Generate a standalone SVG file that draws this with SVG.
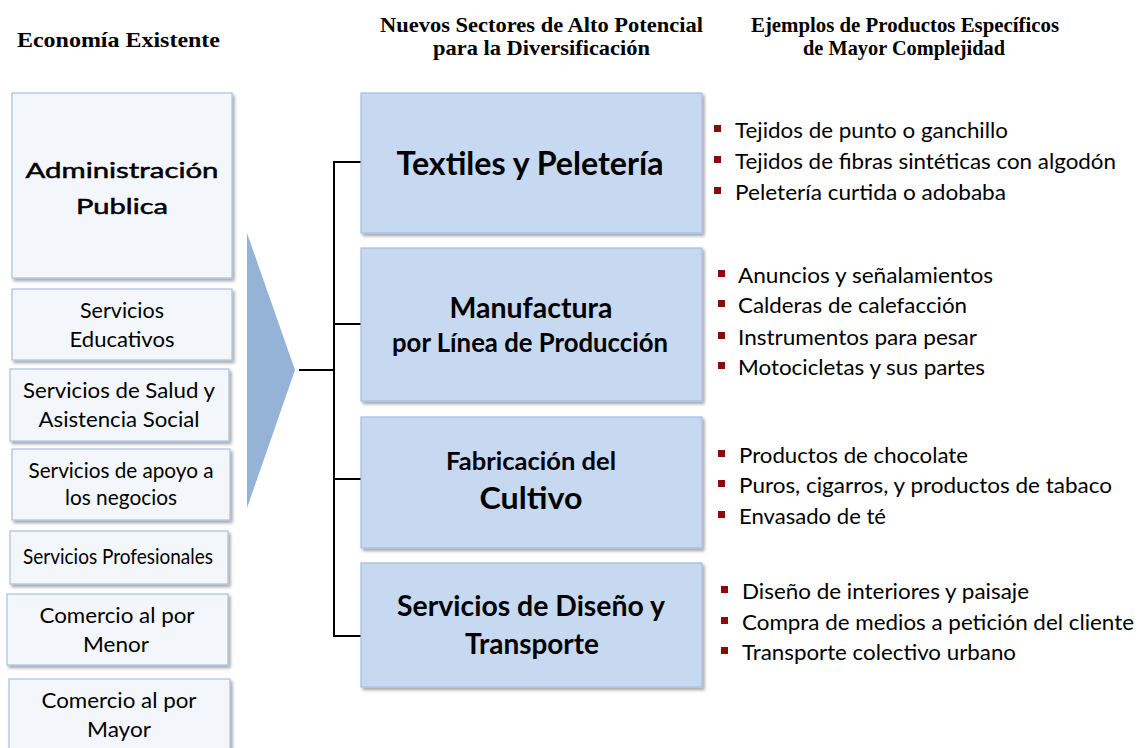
<svg xmlns="http://www.w3.org/2000/svg" width="1138" height="748" viewBox="0 0 1138 748">
<defs>
<filter id="sh" x="-10%" y="-10%" width="120%" height="130%">
<feDropShadow dx="2" dy="2.5" stdDeviation="1.5" flood-color="#000" flood-opacity="0.35"/>
</filter>
</defs>
<style>
.hdr{font-family:"Liberation Serif","Times New Roman",serif;font-weight:bold;font-size:22px;fill:#000}
.lbox{fill:#f3f6fb;stroke:#a7c0e0;stroke-width:1.2}
.mbox{fill:#c6d9f1;stroke:#a3bfe2;stroke-width:1.2}
.lt{font-family:Lato,"Liberation Sans",sans-serif;font-size:22px;fill:#000;text-anchor:middle}
.mt{font-family:Lato,"Liberation Sans",sans-serif;font-weight:bold;fill:#000;text-anchor:middle}
.it{font-family:Lato,"Liberation Sans",sans-serif;font-size:21px;fill:#000}
.bul{fill:#8b0a0a}
.con{stroke:#000;stroke-width:2;fill:none}
.thick{stroke:#000;stroke-width:0.5}
</style>
<rect width="1138" height="748" fill="#fff"/>

<g id="headers">
<text class="hdr" x="17" y="47" font-size="25" textLength="203" lengthAdjust="spacingAndGlyphs">Economía  Existente</text>
<text class="hdr" x="380" y="32" textLength="323" lengthAdjust="spacingAndGlyphs">Nuevos Sectores de Alto Potencial</text>
<text class="hdr" x="433" y="55" textLength="217" lengthAdjust="spacingAndGlyphs">para la Diversificación</text>
<text class="hdr" x="751" y="32" font-size="21" textLength="308" lengthAdjust="spacingAndGlyphs">Ejemplos  de Productos Específicos</text>
<text class="hdr" x="803" y="55" font-size="21" textLength="202" lengthAdjust="spacingAndGlyphs">de Mayor Complejidad</text>
</g>

<g id="n-admin"><rect class="lbox" filter="url(#sh)" x="12" y="93" width="220" height="185"/>
<text class="lt thick" x="122" y="178" font-size="31" textLength="193" lengthAdjust="spacingAndGlyphs">Administración</text>
<text class="lt thick" x="122" y="214" font-size="31" textLength="92" lengthAdjust="spacingAndGlyphs">Publica</text></g>

<g id="n-educ"><rect class="lbox" filter="url(#sh)" x="12" y="289" width="220" height="71"/>
<text class="lt" x="122" y="318" textLength="84" lengthAdjust="spacingAndGlyphs">Servicios</text>
<text class="lt" x="122" y="347" textLength="105" lengthAdjust="spacingAndGlyphs">Educativos</text></g>

<g id="n-salud"><rect class="lbox" filter="url(#sh)" x="10" y="369" width="219" height="72"/>
<text class="lt" x="119" y="398" textLength="192" lengthAdjust="spacingAndGlyphs">Servicios de Salud y</text>
<text class="lt" x="119" y="427" textLength="161" lengthAdjust="spacingAndGlyphs">Asistencia Social</text></g>

<g id="n-apoyo"><rect class="lbox" filter="url(#sh)" x="12" y="449" width="218" height="71"/>
<text class="lt" x="121" y="478" textLength="185" lengthAdjust="spacingAndGlyphs">Servicios de apoyo a</text>
<text class="lt" x="121" y="505" textLength="112" lengthAdjust="spacingAndGlyphs">los negocios</text></g>

<g id="n-prof"><rect class="lbox" filter="url(#sh)" x="10" y="531" width="218" height="53"/>
<text class="lt" x="118" y="564" font-size="18" textLength="190" lengthAdjust="spacingAndGlyphs">Servicios Profesionales</text></g>

<g id="n-menor"><rect class="lbox" filter="url(#sh)" x="7" y="594" width="221" height="71"/>
<text class="lt" x="117" y="623" textLength="155" lengthAdjust="spacingAndGlyphs">Comercio al por</text>
<text class="lt" x="116" y="652" textLength="66" lengthAdjust="spacingAndGlyphs">Menor</text></g>

<g id="n-mayor"><rect class="lbox" filter="url(#sh)" x="9" y="679" width="221" height="90"/>
<text class="lt" x="119" y="708" textLength="155" lengthAdjust="spacingAndGlyphs">Comercio al por</text>
<text class="lt" x="119" y="737" textLength="64" lengthAdjust="spacingAndGlyphs">Mayor</text></g>

<g id="n-arrow"><polygon points="247,233 295,370 247,508" fill="#95b3d7"/></g>

<g id="connectors">
<line class="con" x1="299" y1="370" x2="334" y2="370"/>
<line class="con" x1="334" y1="162" x2="334" y2="636"/>
<line class="con" x1="333" y1="162" x2="362" y2="162"/>
<line class="con" x1="333" y1="324" x2="362" y2="324"/>
<line class="con" x1="333" y1="479" x2="362" y2="479"/>
<line class="con" x1="333" y1="636" x2="362" y2="636"/>
</g>

<g id="n-textiles"><rect class="mbox" filter="url(#sh)" x="361" y="93" width="341" height="140"/>
<text class="mt" x="530" y="175" font-size="33" textLength="267" lengthAdjust="spacingAndGlyphs">Textiles y Peletería</text></g>

<g id="n-manuf"><rect class="mbox" filter="url(#sh)" x="361" y="248" width="341" height="153"/>
<text class="mt" x="531" y="318" font-size="28" textLength="163" lengthAdjust="spacingAndGlyphs">Manufactura</text>
<text class="mt" x="530" y="352" font-size="26" textLength="276" lengthAdjust="spacingAndGlyphs">por Línea de Producción</text></g>

<g id="n-fabric"><rect class="mbox" filter="url(#sh)" x="361" y="417" width="341" height="131"/>
<text class="mt" x="531" y="470" font-size="24" textLength="170" lengthAdjust="spacingAndGlyphs">Fabricación del</text>
<text class="mt" x="531" y="509" font-size="31" textLength="103" lengthAdjust="spacingAndGlyphs">Cultivo</text></g>

<g id="n-diseno"><rect class="mbox" filter="url(#sh)" x="361" y="563" width="341" height="124"/>
<text class="mt" x="531" y="616" font-size="28" font-weight="600" textLength="268" lengthAdjust="spacingAndGlyphs">Servicios de Diseño y</text>
<text class="mt" x="532" y="654" font-size="28" font-weight="600" textLength="134" lengthAdjust="spacingAndGlyphs">Transporte</text></g>

<g id="list-textiles">
<rect class="bul" x="714" y="125" width="7" height="7"/><text class="it" x="735" y="138" textLength="273" lengthAdjust="spacingAndGlyphs">Tejidos de punto o ganchillo</text>
<rect class="bul" x="714" y="156" width="7" height="7"/><text class="it" x="735" y="169" textLength="381" lengthAdjust="spacingAndGlyphs">Tejidos de fibras sintéticas con algodón</text>
<rect class="bul" x="714" y="187" width="7" height="7"/><text class="it" x="735" y="200" textLength="271" lengthAdjust="spacingAndGlyphs">Peletería curtida o adobaba</text>
</g>

<g id="list-manuf">
<rect class="bul" x="718" y="270" width="7" height="7"/><text class="it" x="738" y="283" textLength="255" lengthAdjust="spacingAndGlyphs">Anuncios y señalamientos</text>
<rect class="bul" x="718" y="300" width="7" height="7"/><text class="it" x="738" y="313" textLength="229" lengthAdjust="spacingAndGlyphs">Calderas de calefacción</text>
<rect class="bul" x="718" y="332" width="7" height="7"/><text class="it" x="738" y="345" textLength="239" lengthAdjust="spacingAndGlyphs">Instrumentos para pesar</text>
<rect class="bul" x="718" y="362" width="7" height="7"/><text class="it" x="738" y="375" textLength="247" lengthAdjust="spacingAndGlyphs">Motocicletas y sus partes</text>
</g>

<g id="list-fabric">
<rect class="bul" x="718" y="450" width="7" height="7"/><text class="it" x="739" y="463" textLength="229" lengthAdjust="spacingAndGlyphs">Productos de chocolate</text>
<rect class="bul" x="718" y="480" width="7" height="7"/><text class="it" x="739" y="493" textLength="373" lengthAdjust="spacingAndGlyphs">Puros, cigarros, y productos de tabaco</text>
<rect class="bul" x="718" y="511" width="7" height="7"/><text class="it" x="739" y="524" textLength="147" lengthAdjust="spacingAndGlyphs">Envasado de té</text>
</g>

<g id="list-diseno">
<rect class="bul" x="721" y="586" width="7" height="7"/><text class="it" x="742" y="599" textLength="287" lengthAdjust="spacingAndGlyphs">Diseño de interiores y paisaje</text>
<rect class="bul" x="721" y="617" width="7" height="7"/><text class="it" x="742" y="630" textLength="392" lengthAdjust="spacingAndGlyphs">Compra de medios a petición del cliente</text>
<rect class="bul" x="721" y="647" width="7" height="7"/><text class="it" x="742" y="660" textLength="274" lengthAdjust="spacingAndGlyphs">Transporte colectivo urbano</text>
</g>
</svg>
